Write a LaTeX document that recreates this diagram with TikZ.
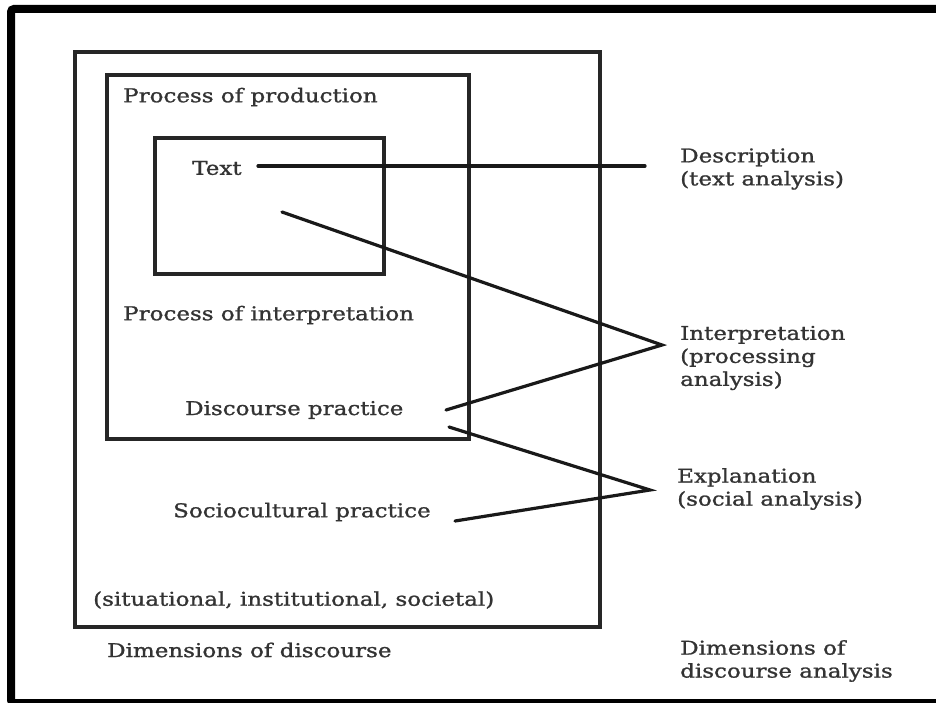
\documentclass[tikz,border=0pt]{standalone}
\usepackage{fontspec}
\setmainfont{DejaVu Serif}[FakeStretch=1.21, FakeBold=1.2]
\begin{document}
\begin{tikzpicture}[x=1pt,y=-1pt,
  lbl/.style={font=\fontsize{19}{23}\selectfont, text=black!80, inner sep=0pt, anchor=west, align=left},
  box/.style={draw=black!85, line width=3.2pt},
  link/.style={draw=black!90, line width=3.2pt, line cap=round}]
\useasboundingbox (0,0) rectangle (936,703);
\clip (0,0) rectangle (936,703);
\fill[white] (0,0) rectangle (936,703);
% heavy outer frame
\draw[line width=8pt, rounded corners=3pt] (11,9) rectangle (950,703);

% nested dimension boxes
\draw[box] (75,52) rectangle (600,627);
\draw[box] (107,75) rectangle (469,439);
\draw[box] (155,138) rectangle (384,274);

% labels inside the boxes
\node[lbl] (prod) at (123,97) {Process of production};
\node[lbl] (text) at (192,168) {Text};
\node[lbl] (interp) at (123,315) {Process of interpretation};
\node[lbl] (dp) at (185,410) {Discourse practice};
\node[lbl] (sp) at (173,512) {Sociocultural practice};
\node[lbl] (sit) at (93,600) {(situational, institutional, societal)};
\node[lbl] (dim) at (107,650) {Dimensions of discourse};

% analysis labels on the right
\node[lbl] (desc) at (680,169) {Description\\(text analysis)};
\node[lbl] (interpretation) at (680,358) {Interpretation\\(processing\\analysis)};
\node[lbl] (expl) at (677,489) {Explanation\\(social analysis)};
\node[lbl] (dimda) at (680,661) {Dimensions of\\discourse analysis};

% connector end points
\coordinate (tStart) at (258,166);
\coordinate (tEnd) at (645,166);
\coordinate (tIn) at (282,212);
\coordinate (iApex) at (662,345);
\coordinate (dpUp) at (446,410);
\coordinate (dpDown) at (449,427);
\coordinate (eApex) at (650,490);
\coordinate (spEnd) at (455,521);

\draw[link] (tStart) -- (tEnd);
\draw[link] (tIn) -- (iApex) -- (dpUp);
\draw[link] (dpDown) -- (eApex) -- (spEnd);
\end{tikzpicture}
\end{document}
